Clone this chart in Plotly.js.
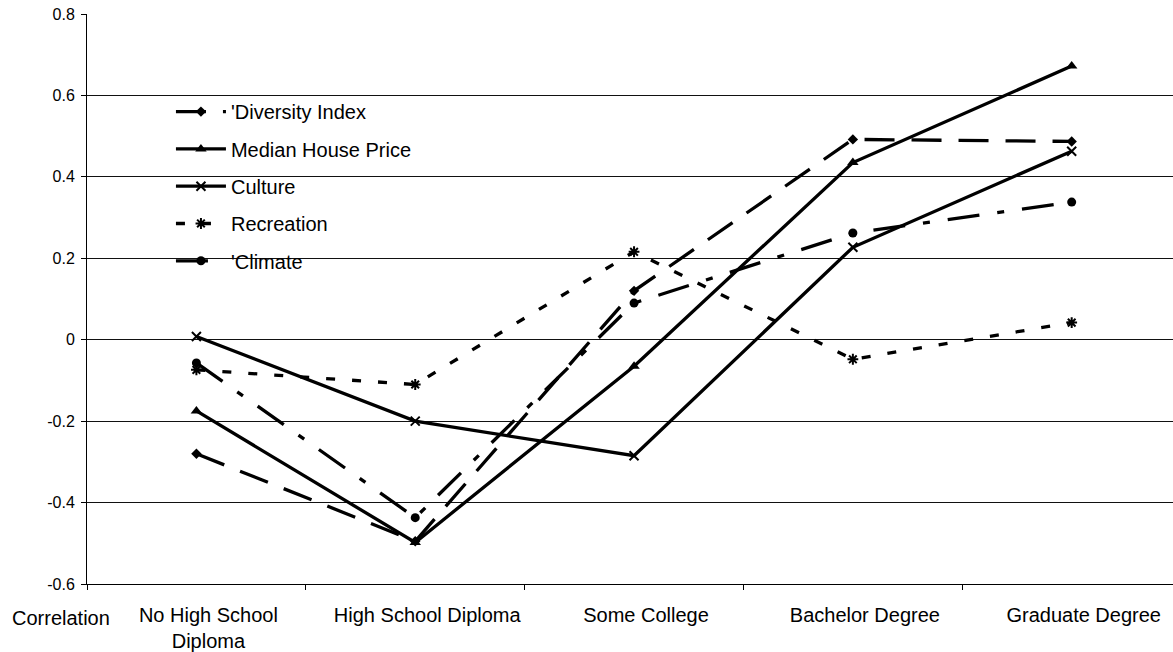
<!DOCTYPE html>
<html>
<head>
<meta charset="utf-8">
<script src="https://cdn.plot.ly/plotly-3.0.1.min.js"></script>
<style>html,body{margin:0;padding:0;background:#fff;}#chart{width:1173px;height:652px;}</style>
</head>
<body>
<div id="chart"></div>
<script>
// ---- data ----
const categories = ['No High School<br>Diploma', 'High School Diploma', 'Some College', 'Bachelor Degree', 'Graduate Degree'];
const seriesNames = ["'Diversity Index", 'Median House Price', 'Culture', 'Recreation', "'Climate"];
const diversityIndex   = [-0.28, -0.495, 0.12, 0.492, 0.487];
const medianHousePrice = [-0.175, -0.498, -0.065, 0.435, 0.672];
const culture          = [0.008, -0.2, -0.285, 0.227, 0.463];
const recreation       = [-0.074, -0.11, 0.216, -0.048, 0.042];
const climate          = [-0.057, -0.437, 0.09, 0.262, 0.338];
const yTickVals = [-0.6, -0.4, -0.2, 0, 0.2, 0.4, 0.6, 0.8];
const yTickText = ['-0.6', '-0.4', '-0.2', '0', '0.2', '0.4', '0.6', '0.8'];
const cornerLabel = 'Correlation';

// ---- styles ----
const styles = [
  {dash: '30px,17px', symbol: 'diamond', size: 8, lw: 0},
  {dash: 'solid', symbol: 'triangle-up', size: 10, lw: 0},
  {dash: 'solid', symbol: 'x-thin-open', size: 9, lw: 2},
  {dash: '9px,17px', symbol: 'asterisk-open', size: 9, lw: 2},
  {dash: '32px,18px,7px,18px', symbol: 'circle', size: 9, lw: 0}
];
const values = [diversityIndex, medianHousePrice, culture, recreation, climate];

const traces = values.map((v, i) => ({
  type: 'scatter',
  mode: 'lines+markers',
  name: seriesNames[i],
  legendgroup: 'g' + i,
  x: categories,
  y: v,
  line: {color: '#000', width: 3.3, dash: styles[i].dash},
  marker: {color: '#000', symbol: styles[i].symbol, size: styles[i].size,
           line: {color: '#000', width: styles[i].lw}},
  cliponaxis: false
}));

const font = 'Liberation Sans, Arial, sans-serif';
const layout = {
  width: 1173, height: 652,
  margin: {l: 87, r: 0, t: 14, b: 68, pad: 0},
  paper_bgcolor: '#fff', plot_bgcolor: '#fff',
  font: {family: font, color: '#000', size: 20},
  showlegend: true,
  legend: {
    x: 0.0773, y: 0.863, xanchor: 'left', yanchor: 'top',
    bgcolor: 'rgba(0,0,0,0)', borderwidth: 0,
    font: {family: font, size: 20, color: '#000'},
    itemwidth: 50, tracegroupgap: 8.3, traceorder: 'grouped'
  },
  xaxis: {
    type: 'category', range: [-0.5, 4.463],
    tickson: 'boundaries', ticks: 'outside', ticklen: 5, tickcolor: '#000', tickwidth: 1,
    showline: true, linecolor: '#000', linewidth: 1,
    showgrid: false, zeroline: false,
    tickfont: {family: font, size: 20, color: '#000'},
    ticklabelshift: 12, ticklabelstandoff: 13, fixedrange: true
  },
  yaxis: {
    range: [-0.6, 0.8], tickmode: 'array', tickvals: yTickVals, ticktext: yTickText,
    ticks: 'outside', ticklen: 5, tickcolor: '#000', tickwidth: 1,
    showline: true, linecolor: '#000', linewidth: 1,
    showgrid: true, gridcolor: '#111', gridwidth: 1, zeroline: false,
    tickfont: {family: font, size: 16, color: '#000'},
    ticklabelstandoff: 3, fixedrange: true
  },
  shapes: [{
    type: 'rect', xref: 'paper', yref: 'paper', layer: 'between',
    x0: 0.0562, x1: 0.2956, y0: 0.5246, y1: 0.8754,
    fillcolor: '#fff', line: {width: 0}
  }],
  annotations: [{
    text: cornerLabel, xref: 'paper', yref: 'paper', x: 0, y: 0,
    xanchor: 'center', yanchor: 'top', xshift: -26, yshift: -21,
    showarrow: false, font: {family: font, size: 20, color: '#000'}
  }]
};

Plotly.newPlot('chart', traces, layout, {displayModeBar: false, staticPlot: true});
</script>
</body>
</html>
